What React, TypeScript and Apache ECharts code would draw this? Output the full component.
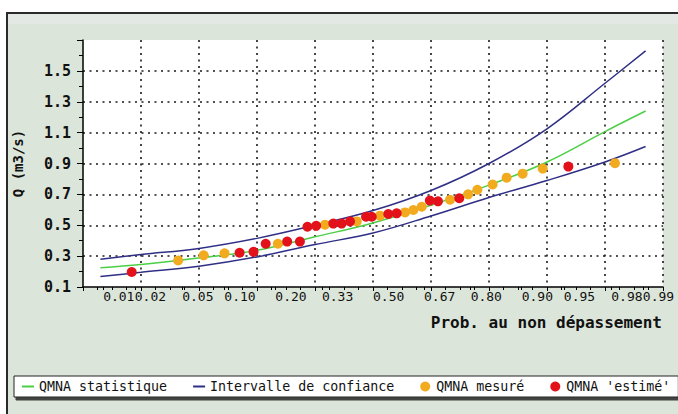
import React, { useEffect, useRef } from 'react';
import * as echarts from 'echarts';

// Probability ticks of the non-exceedance axis (normal probability paper)
const probTicks = [0.01, 0.02, 0.05, 0.1, 0.2, 0.33, 0.5, 0.67, 0.8, 0.9, 0.95, 0.98, 0.99];
const probLabels = ['0.01', '0.02', '0.05', '0.10', '0.20', '0.33', '0.50', '0.67', '0.80', '0.90', '0.95', '0.98', '0.99'];

// Curves, read at reduced normal variate u
const curveU = [-2.35, -2, -1.5, -1, -0.5, 0, 0.5, 1, 1.5, 2, 2.35];
const qStat = [0.224, 0.245, 0.288, 0.338, 0.425, 0.515, 0.63, 0.76, 0.91, 1.107, 1.24];
const qUpper = [0.28, 0.31, 0.35, 0.415, 0.5, 0.595, 0.725, 0.9, 1.125, 1.42, 1.63];
const qLower = [0.168, 0.195, 0.235, 0.295, 0.375, 0.45, 0.56, 0.68, 0.79, 0.91, 1.01];

// Measured QMNA (reduced variate u, Q)
const measuredU = [-1.68, -1.46, -1.28, -0.82, -0.414, -0.14, 0.06, 0.276, 0.348, 0.42, 0.664, 0.82, 0.9, 1.031, 1.152, 1.29, 1.463, 2.086];
const measuredQ = [0.272, 0.305, 0.318, 0.38, 0.503, 0.525, 0.562, 0.583, 0.599, 0.62, 0.665, 0.7, 0.73, 0.764, 0.808, 0.834, 0.867, 0.902];

// Estimated QMNA
const estimatedU = [-2.08, -1.15, -1.03, -0.925, -0.74, -0.63, -0.565, -0.49, -0.342, -0.27, -0.198, -0.06, -0.011, 0.132, 0.204, 0.49, 0.56, 0.744, 1.684];
const estimatedQ = [0.197, 0.322, 0.328, 0.38, 0.394, 0.394, 0.49, 0.496, 0.511, 0.511, 0.525, 0.555, 0.555, 0.573, 0.577, 0.66, 0.655, 0.675, 0.88];

const seriesNames = ['QMNA statistique', 'Intervalle de confiance', 'QMNA mesuré', "QMNA 'estimé'"];

function probit(p: number): number {
  const a = [-39.69683028665376, 220.9460984245205, -275.9285104469687, 138.357751867269, -30.66479806614716, 2.506628277459239];
  const b = [-54.47609879822406, 161.5858368580409, -155.6989798598866, 66.80131188771972, -13.28068155288572];
  const c = [-0.007784894002430293, -0.3223964580411365, -2.400758277161838, -2.549732539343734, 4.374664141464968, 2.938163982698783];
  const d = [0.007784695709041462, 0.3224671290700398, 2.445134137142996, 3.754408661907416];
  const pl = 0.02425;
  if (p < pl) {
    const q = Math.sqrt(-2 * Math.log(p));
    return (((((c[0] * q + c[1]) * q + c[2]) * q + c[3]) * q + c[4]) * q + c[5]) / ((((d[0] * q + d[1]) * q + d[2]) * q + d[3]) * q + 1);
  }
  if (p > 1 - pl) {
    const q = Math.sqrt(-2 * Math.log(1 - p));
    return -(((((c[0] * q + c[1]) * q + c[2]) * q + c[3]) * q + c[4]) * q + c[5]) / ((((d[0] * q + d[1]) * q + d[2]) * q + d[3]) * q + 1);
  }
  const q = p - 0.5;
  const r = q * q;
  return ((((((a[0] * r + a[1]) * r + a[2]) * r + a[3]) * r + a[4]) * r + a[5]) * q) / (((((b[0] * r + b[1]) * r + b[2]) * r + b[3]) * r + b[4]) * r + 1);
}

const MONO = "'DejaVu Sans Mono', monospace";
const GREEN = '#4ccf45';
const NAVY = '#2f2f86';
const ORANGE = '#f2aa1f';
const RED = '#e3121a';

export default function App() {
  const ref = useRef<HTMLDivElement>(null);

  useEffect(() => {
    if (!ref.current) return;
    const chart = echarts.init(ref.current, undefined, { renderer: 'svg' });
    const tickU = probTicks.map(probit);
    const zip = (xs: number[], ys: number[]) => xs.map((x, i) => [x, ys[i]]);
    const dotted = { color: '#1a1a1a', width: 1.6, type: [2, 4.5] as number[] };
    const linePath = 'path://M0,0 L12,0 L12,2 L0,2 Z';

    chart.setOption({
      animation: false,
      graphic: [
        {
          type: 'rect',
          z: -10,
          silent: true,
          shape: { x: 7, y: 13, width: 690, height: 420 },
          style: { fill: '#dce5d9', stroke: '#2a2a2a', lineWidth: 2 },
        },
        {
          type: 'rect',
          z: -9,
          silent: true,
          shape: { x: 8, y: 14, width: 690, height: 10 },
          style: { fill: '#e3e8e4' },
        },
      ],
      grid: {
        left: 83,
        right: 15,
        top: 40,
        bottom: 127,
        show: true,
        backgroundColor: '#ffffff',
        borderWidth: 0,
      },
      legend: {
        left: 14,
        top: 376,
        padding: [4, 8, 4, 8],
        itemGap: 26,
        itemWidth: 12,
        itemHeight: 10,
        selectedMode: false,
        backgroundColor: '#ffffff',
        borderColor: '#222',
        borderWidth: 1,
        shadowColor: 'rgba(0,0,0,0.7)',
        shadowOffsetX: 2,
        shadowOffsetY: 3,
        shadowBlur: 1,
        textStyle: { fontFamily: MONO, fontSize: 13.3, color: '#111' },
        data: [
          { name: seriesNames[0], icon: linePath, itemStyle: { color: GREEN } },
          { name: seriesNames[1], icon: linePath, itemStyle: { color: NAVY } },
          { name: seriesNames[2], icon: 'circle', itemStyle: { color: ORANGE } },
          { name: seriesNames[3], icon: 'circle', itemStyle: { color: RED } },
        ],
      },
      xAxis: [
        {
          type: 'value',
          position: 'bottom',
          min: -2.5,
          max: 2.5,
          interval: 0.5,
          axisLine: { show: true, onZero: false, lineStyle: { color: '#000', width: 1.5 } },
          axisTick: { show: true, inside: false, length: 4, lineStyle: { color: '#000' } },
          minorTick: { show: true, splitNumber: 4, length: 3, lineStyle: { color: '#000' } },
          axisLabel: { show: false },
          splitLine: { show: true, showMinLine: false, lineStyle: dotted },
          name: 'Prob. au non dépassement',
          nameLocation: 'end',
          nameGap: -1,
          nameTextStyle: {
            fontFamily: MONO,
            fontWeight: 'bold',
            fontSize: 16,
            color: '#111',
            align: 'right',
            verticalAlign: 'top',
            padding: [27, 0, 0, 0],
          },
        },
        {
          type: 'value',
          position: 'bottom',
          min: -2.5,
          max: 2.5,
          axisLine: { show: false, onZero: false },
          axisTick: { show: true, inside: false, length: 3, customValues: tickU, lineStyle: { color: '#000' } },
          axisLabel: {
            show: true,
            customValues: tickU,
            align: 'left',
            margin: 3,
            fontFamily: MONO,
            fontSize: 13,
            color: '#111',
            formatter: (v: number) => {
              let best = 0;
              tickU.forEach((u, i) => {
                if (Math.abs(u - v) < Math.abs(tickU[best] - v)) best = i;
              });
              return probLabels[best];
            },
          },
          splitLine: { show: false },
        },
      ],
      yAxis: {
        type: 'value',
        min: 0.1,
        max: 1.7,
        interval: 0.2,
        axisLine: { show: true, onZero: false, lineStyle: { color: '#000', width: 1.5 } },
        axisTick: { show: true, inside: false, length: 6, lineStyle: { color: '#000' } },
        minorTick: { show: true, splitNumber: 2, length: 4, lineStyle: { color: '#000' } },
        axisLabel: {
          margin: 12,
          fontFamily: MONO,
          fontWeight: 'bold',
          fontSize: 15,
          color: '#111',
          showMaxLabel: false,
          formatter: (v: number) => v.toFixed(1),
        },
        splitLine: { show: true, showMinLine: false, showMaxLine: false, lineStyle: dotted },
        name: 'Q (m3/s)',
        nameLocation: 'middle',
        nameRotate: 90,
        nameGap: 58,
        nameMoveOverlap: false,
        nameTextStyle: { fontFamily: MONO, fontWeight: 'bold', fontSize: 14, color: '#111' },
      },
      series: [
        {
          name: seriesNames[0],
          type: 'line',
          xAxisIndex: 0,
          data: zip(curveU, qStat),
          smooth: 0.4,
          showSymbol: false,
          lineStyle: { color: GREEN, width: 1.5 },
          itemStyle: { color: GREEN },
          z: 2,
        },
        {
          name: seriesNames[1],
          type: 'line',
          xAxisIndex: 0,
          data: zip(curveU, qUpper),
          smooth: 0.4,
          showSymbol: false,
          lineStyle: { color: NAVY, width: 1.5 },
          itemStyle: { color: NAVY },
          z: 2,
        },
        {
          name: seriesNames[1],
          type: 'line',
          xAxisIndex: 0,
          data: zip(curveU, qLower),
          smooth: 0.4,
          showSymbol: false,
          lineStyle: { color: NAVY, width: 1.5 },
          itemStyle: { color: NAVY },
          z: 2,
        },
        {
          name: seriesNames[2],
          type: 'scatter',
          xAxisIndex: 0,
          data: zip(measuredU, measuredQ),
          symbolSize: 10,
          itemStyle: { color: ORANGE, opacity: 1 },
          z: 3,
        },
        {
          name: seriesNames[3],
          type: 'scatter',
          xAxisIndex: 0,
          data: zip(estimatedU, estimatedQ),
          symbolSize: 10,
          itemStyle: { color: RED, opacity: 1 },
          z: 4,
        },
      ],
    });
    return () => chart.dispose();
  }, []);

  return (
    <div
      ref={ref}
      style={{ position: 'absolute', left: 0, top: 0, width: 678, height: 414 }}
    />
  );
}
